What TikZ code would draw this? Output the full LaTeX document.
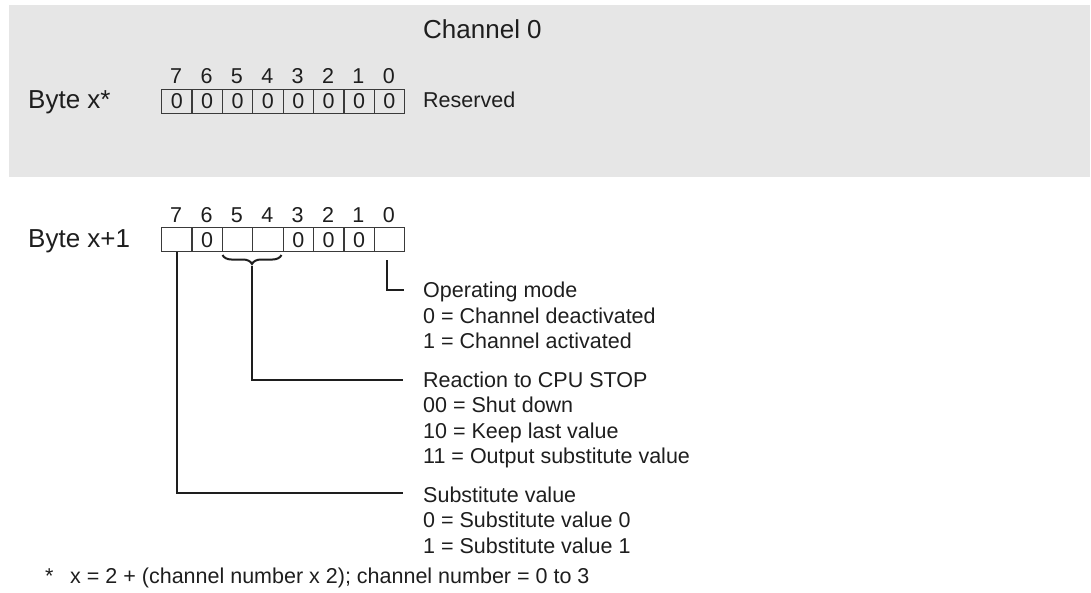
\documentclass[tikz,border=0pt]{standalone}
\usepackage{fontspec}
\setmainfont{Liberation Sans}
\usetikzlibrary{decorations.pathreplacing}
\definecolor{bg}{HTML}{E6E6E6}
\definecolor{ink}{HTML}{1E1E1E}
\definecolor{boxline}{HTML}{3A3A3A}
\tikzset{
  big/.style={font=\fontsize{26}{30}\selectfont, text=ink, inner sep=0pt, anchor=base west},
  desc/.style={font=\fontsize{21.5}{25}\selectfont, text=ink, inner sep=0pt, anchor=base west},
  bitnum/.style={font=\fontsize{21.5}{25}\selectfont, text=ink, inner sep=0pt, anchor=base},
  cell/.style={draw=boxline, line width=1.3pt, minimum width=30.375pt, minimum height=24pt,
    inner sep=0pt, anchor=north west, text height=15.4pt, text depth=0pt,
    font=\fontsize{21.5}{25}\selectfont, text=ink},
  conn/.style={draw=ink, line width=2pt},
}
\begin{document}
\begin{tikzpicture}[x=1pt,y=-1pt]
\useasboundingbox (0,0) rectangle (1091,592);
\fill[bg] (9,5) rectangle (1090,177);

% Row 1
\node[big] (ch) at (423,38) {Channel 0};
\node[big] (bx) at (28,108.3) {Byte x*};
\foreach \i/\b in {0/7,1/6,2/5,3/4,4/3,5/2,6/1,7/0}{
  \node[cell] (a\b) at (161+\i*30.375,88.5) {0};
  \node[bitnum] (na\b) at (176.2+\i*30.375,83.5) {\b};
}
\node[desc] (res) at (423,107.5) {Reserved};

% Row 2
\node[big] (by) at (28,247) {Byte x+1};
\foreach \i/\b/\v in {0/7/,1/6/0,2/5/,3/4/,4/3/0,5/2/0,6/1/0,7/0/}{
  \node[cell] (c\b) at (161+\i*30.375,227) {\v};
  \node[bitnum] (nc\b) at (176.2+\i*30.375,222) {\b};
}

% brace under bits 5 and 4
\draw[draw=ink, line width=2pt, decorate, decoration={brace, mirror, amplitude=9pt}]
  (222.5,255) -- (281.5,255);
\coordinate (bt) at (252.1,266);

% Descriptions
\node[desc] (om)  at (423,297)   {Operating mode};
\node[desc] (om0) at (423,323)   {0 = Channel deactivated};
\node[desc] (om1) at (423,348.5) {1 = Channel activated};

\node[desc] (rc)   at (423,387)   {Reaction to CPU STOP};
\node[desc] (rc00) at (423,412.5) {00 = Shut down};
\node[desc] (rc10) at (423,438)   {10 = Keep last value};
\node[desc] (rc11) at (423,463.5) {11 = Output substitute value};

\node[desc] (sv)  at (423,502)   {Substitute value};
\node[desc] (sv0) at (423,527.5) {0 = Substitute value 0};
\node[desc] (sv1) at (423,553)   {1 = Substitute value 1};

\node[desc] (star) at (45,583) {*};
\node[desc] (fn)   at (70,583) {x = 2 + (channel number x 2); channel number = 0 to 3};

% Connectors
\coordinate (e0) at (404,290);
\coordinate (e45) at (403,380);
\coordinate (e7) at (403,493);
\draw[conn] ([yshift=-8pt]c0.south) ++(-2,0) |- (e0);
\draw[conn] (bt) |- (e45);
\draw[conn] (c7.south) |- (e7);
\end{tikzpicture}
\end{document}
